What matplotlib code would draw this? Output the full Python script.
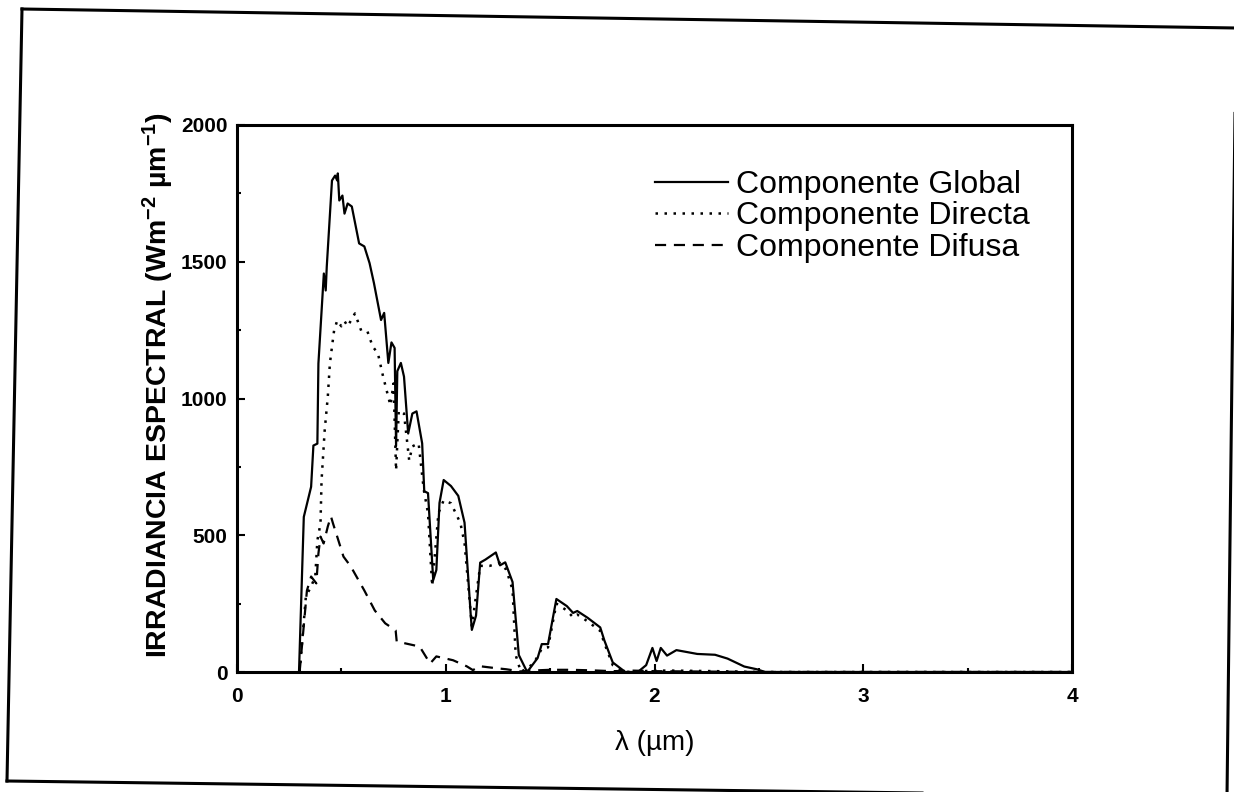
import matplotlib
matplotlib.use('Agg')
import matplotlib.pyplot as plt
from matplotlib.lines import Line2D

# spectral irradiance
global_x = [0.297, 0.32, 0.355, 0.366, 0.385, 0.39, 0.416, 0.425, 0.43, 0.455,
            0.47, 0.48, 0.483, 0.49, 0.505, 0.515, 0.53, 0.55, 0.585, 0.61,
            0.635, 0.656, 0.69, 0.705, 0.725, 0.74, 0.755, 0.762, 0.768, 0.785,
            0.80, 0.82, 0.84, 0.86, 0.887, 0.897, 0.915, 0.94, 0.955, 0.97,
            0.99, 1.025, 1.06, 1.09, 1.12, 1.125, 1.145, 1.165, 1.19, 1.24,
            1.26, 1.285, 1.32, 1.35, 1.39, 1.44, 1.46, 1.49, 1.53, 1.58,
            1.61, 1.63, 1.68, 1.74, 1.76, 1.80, 1.86, 1.92, 1.96, 1.99,
            2.01, 2.03, 2.06, 2.105, 2.205, 2.29, 2.35, 2.43, 2.49, 2.53, 4.0]
global_y = [0, 567, 677, 828, 835, 1128, 1457, 1395, 1482, 1797,
            1815, 1797, 1823, 1724, 1742, 1676, 1713, 1702, 1567, 1556,
            1495, 1422, 1287, 1313, 1130, 1205, 1185, 826, 1100, 1130,
            1080, 872, 945, 953, 836, 661, 654, 336, 373, 618,
            702, 680, 644, 546, 205, 154, 206, 400, 411, 437,
            390, 401, 329, 62, 0, 51, 102, 102, 267, 241,
            216, 223, 198, 163, 115, 35, 0, 0, 25, 88,
            40, 88, 60, 80, 66, 63, 49, 20, 10, 0, 0]

directa_x = [0.30, 0.33, 0.355, 0.375, 0.385, 0.40, 0.405, 0.42, 0.435, 0.445,
             0.455, 0.465, 0.48, 0.50, 0.515, 0.53, 0.565, 0.595, 0.625, 0.65,
             0.675, 0.70, 0.735, 0.75, 0.762, 0.775, 0.80, 0.825, 0.84, 0.87,
             0.895, 0.915, 0.935, 0.965, 0.99, 1.025, 1.07, 1.09, 1.125, 1.165,
             1.21, 1.26, 1.29, 1.32, 1.335, 1.36, 1.42, 1.46, 1.49, 1.53,
             1.58, 1.61, 1.63, 1.68, 1.74, 1.76, 1.80, 1.86, 2.0, 2.1,
             2.3, 2.5, 4.0]
directa_y = [0, 276, 313, 349, 481, 543, 700, 883, 1007, 1128,
             1189, 1248, 1285, 1264, 1283, 1264, 1311, 1248, 1245, 1190,
             1165, 1080, 975, 1055, 737, 956, 945, 773, 825, 836,
             665, 581, 314, 581, 628, 617, 545, 472, 168, 388,
             388, 399, 374, 301, 62, 0, 30, 85, 90, 250,
             225, 200, 210, 185, 150, 105, 25, 0, 5, 5,
             3, 0, 0]

difusa_x = [0.30, 0.335, 0.355, 0.38, 0.39, 0.40, 0.415, 0.435, 0.45, 0.46,
            0.48, 0.51, 0.545, 0.61, 0.66, 0.71, 0.76, 0.765, 0.81, 0.875,
            0.925, 0.955, 1.035, 1.10, 1.13, 1.165, 1.24, 1.29, 1.36, 1.40,
            1.5, 1.6, 1.7, 1.8, 1.9, 2.0, 2.5, 4.0]
difusa_y = [0, 298, 349, 324, 433, 495, 470, 532, 569, 543,
            495, 422, 386, 298, 225, 178, 152, 112, 104, 93,
            31, 57, 43, 21, 7, 21, 14, 10, 2, 5,
            8, 8, 6, 3, 5, 3, 0, 0]

labels = ['Componente Global', 'Componente Directa', 'Componente Difusa']

plt.rcParams['font.family'] = ['Liberation Sans', 'DejaVu Sans']
plt.rcParams['font.weight'] = 'bold'
plt.rcParams['mathtext.fontset'] = 'custom'
plt.rcParams['mathtext.rm'] = 'Liberation Sans:bold'
plt.rcParams['mathtext.default'] = 'rm'

W, H = 1234, 792
fig = plt.figure(figsize=(W / 100, H / 100), dpi=100)
fig.patch.set_facecolor('white')

# axes box in pixels: left 237, right 1072, top 125, bottom 672
ax = fig.add_axes([237 / W, 1 - 672 / H, 835 / W, 547 / H])

ax.plot(global_x, global_y, color='black', lw=1.6, label=labels[0])
ax.plot(directa_x, directa_y, color='black', lw=1.8, linestyle=(0, (1, 2.6)), label=labels[1])
ax.plot(difusa_x, difusa_y, color='black', lw=1.6, linestyle=(0, (5, 3.5)), label=labels[2])

ax.set_xlim(0, 4)
ax.set_ylim(0, 2000)
ax.set_xticks([0, 1, 2, 3, 4])
ax.set_xticks([0.5, 1.5, 2.5, 3.5], minor=True)
ax.set_yticks([0, 500, 1000, 1500, 2000])
ax.set_yticks([250, 750, 1250, 1750], minor=True)
ax.tick_params(which='both', direction='in', top=False, right=False, width=1.5)
ax.tick_params(which='major', length=6, labelsize=15)
ax.tick_params(which='minor', length=3)
ax.tick_params(axis='x', which='major', pad=11)
ax.tick_params(axis='y', which='major', pad=7)
for s in ax.spines.values():
    s.set_linewidth(2.2)

ax.set_xlabel('λ (µm)', fontsize=20, fontweight='normal', labelpad=17)
ax.set_ylabel(r'IRRADIANCIA ESPECTRAL (Wm$^{-2}$ µm$^{-1}$)', fontsize=20.5,
              fontweight='bold', labelpad=3)
ax.yaxis.label.set_y(0.525)

ax.legend(loc='upper left', bbox_to_anchor=(0.5, 0.918), frameon=False,
          prop={'size': 23, 'weight': 'normal'}, handlelength=2.3,
          handletextpad=0.25, labelspacing=0.05, borderpad=0, borderaxespad=0)

# outer frame of the scanned page, slightly tilted
tl, tr, br, bl = (22, 9), (1236, 28), (1227, 797), (7, 781)
for a, b in [(tl, tr), (tr, br), (br, bl), (bl, tl)]:
    fig.add_artist(Line2D([a[0] / W, b[0] / W], [1 - a[1] / H, 1 - b[1] / H],
                          transform=fig.transFigure, color='black', lw=2.2))

fig.savefig('out.png', dpi=100)
